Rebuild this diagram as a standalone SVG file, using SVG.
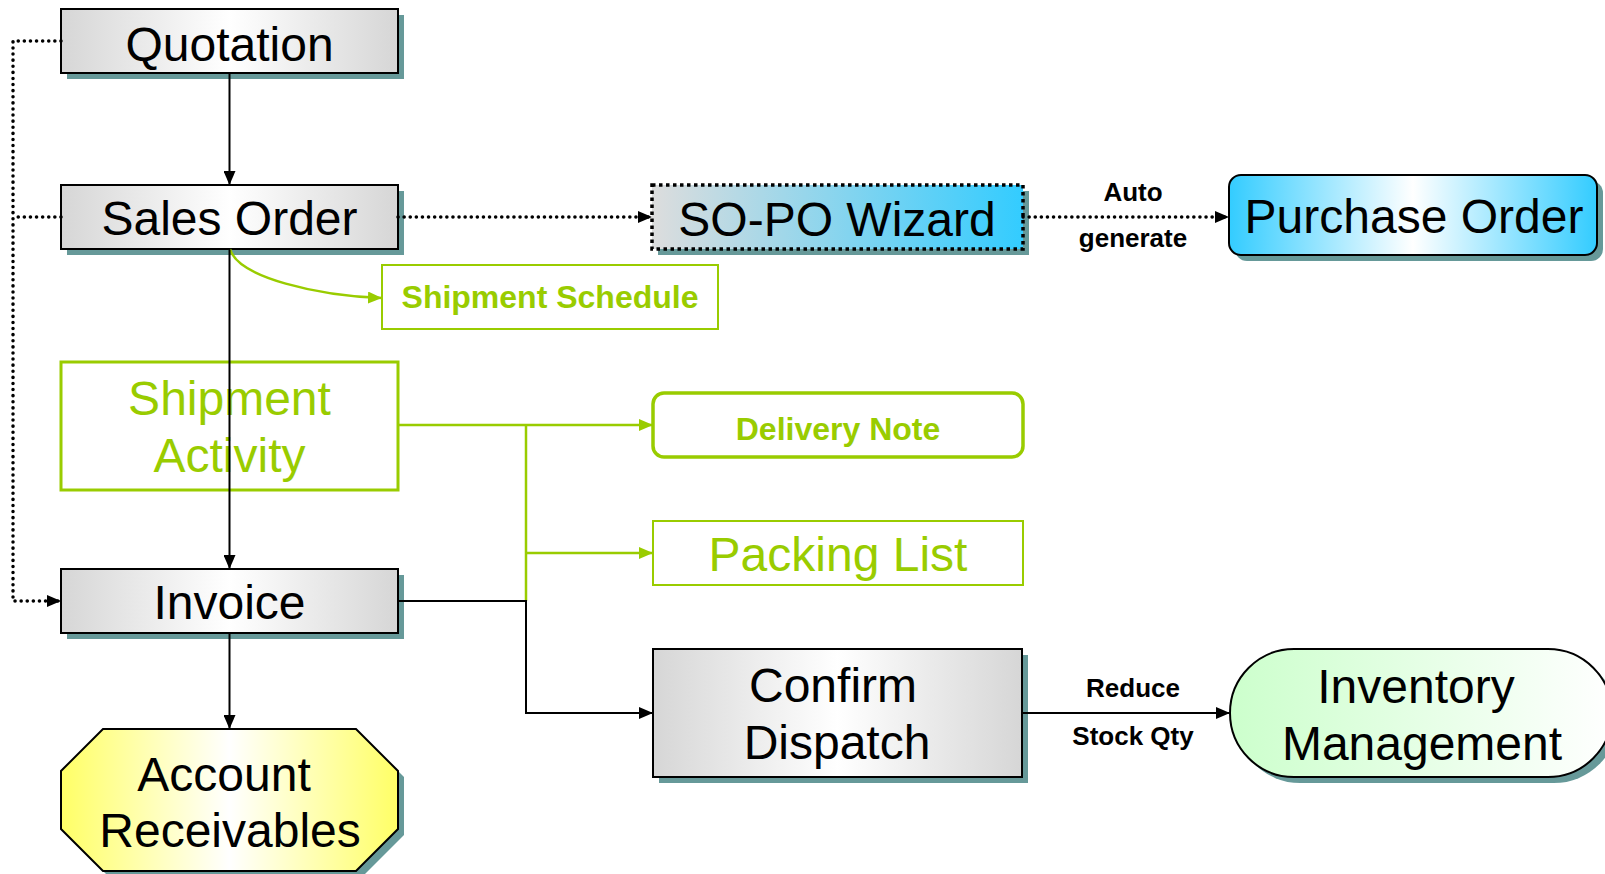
<svg xmlns="http://www.w3.org/2000/svg" width="1605" height="874" viewBox="0 0 1605 874">
<defs>
<linearGradient id="gGray" x1="0" y1="0" x2="1" y2="0"><stop offset="0" stop-color="#d6d6d6"/><stop offset="0.5" stop-color="#ffffff"/><stop offset="1" stop-color="#d6d6d6"/></linearGradient>
<linearGradient id="gBlue" x1="0" y1="0" x2="1" y2="0"><stop offset="0" stop-color="#33ccff"/><stop offset="0.5" stop-color="#ffffff"/><stop offset="1" stop-color="#33ccff"/></linearGradient>
<linearGradient id="gWiz" x1="0" y1="0" x2="1" y2="0"><stop offset="0" stop-color="#dddddd"/><stop offset="1" stop-color="#33ccff"/></linearGradient>
<linearGradient id="gYellow" x1="0" y1="0" x2="1" y2="0"><stop offset="0" stop-color="#ffff66"/><stop offset="0.5" stop-color="#ffffff"/><stop offset="1" stop-color="#ffff66"/></linearGradient>
<linearGradient id="gGreen" x1="0" y1="0" x2="1" y2="0"><stop offset="0" stop-color="#ccffcc"/><stop offset="1" stop-color="#ffffff"/></linearGradient>
<marker id="aBlack" viewBox="0 0 14 12" refX="14" refY="6" markerWidth="14" markerHeight="12" markerUnits="userSpaceOnUse" orient="auto"><path d="M0,0 L14,6 L0,12 Z" fill="#000"/></marker>
<marker id="aGreen" viewBox="0 0 14 12" refX="14" refY="6" markerWidth="14" markerHeight="12" markerUnits="userSpaceOnUse" orient="auto"><path d="M0,0 L14,6 L0,12 Z" fill="#99cc00"/></marker>
</defs>
<style>
.big{font-family:"Liberation Sans",Arial,sans-serif;font-size:48px;text-anchor:middle;fill:#000}
.gbig{font-family:"Liberation Sans",Arial,sans-serif;font-size:48px;text-anchor:middle;fill:#99cc00}
.gbold{font-family:"Liberation Sans",Arial,sans-serif;font-size:32px;font-weight:bold;text-anchor:middle;fill:#99cc00}
.lbl{font-family:"Liberation Sans",Arial,sans-serif;font-size:26px;font-weight:bold;text-anchor:middle;fill:#000}
.shadow{fill:#669999}
.grayBox{fill:url(#gGray);stroke:#000;stroke-width:2}
.cb{fill:none;stroke:#000;stroke-width:2}
.cd{fill:none;stroke:#000;stroke-width:3.5;stroke-dasharray:0.1 6;stroke-linecap:round}
.cg{fill:none;stroke:#99cc00;stroke-width:2.5}
</style>

<g id="node-quotation">
<rect class="shadow" x="67" y="15" width="337" height="64"/>
<rect class="grayBox" x="61" y="9" width="337" height="64"/>
<text class="big" x="229.5" y="61">Quotation</text>
</g>

<g id="node-sales-order">
<rect class="shadow" x="67" y="191" width="337" height="64"/>
<rect class="grayBox" x="61" y="185" width="337" height="64"/>
<text class="big" x="229.5" y="235">Sales Order</text>
</g>

<g id="node-shipment-activity">
<rect x="61" y="362" width="337" height="128" fill="#fff" stroke="#99cc00" stroke-width="3"/>
<text class="gbig" x="229.5" y="415">Shipment</text>
<text class="gbig" x="229.5" y="472">Activity</text>
</g>

<g id="node-invoice">
<rect class="shadow" x="67" y="575" width="337" height="64"/>
<rect class="grayBox" x="61" y="569" width="337" height="64"/>
<text class="big" x="229.5" y="619">Invoice</text>
</g>

<g id="node-account-receivables">
<polygon class="shadow" points="109,735 362,735 404,777 404,835 362,877 109,877 67,835 67,777"/>
<polygon points="103,729 356,729 398,771 398,829 356,871 103,871 61,829 61,771" fill="url(#gYellow)" stroke="#000" stroke-width="2"/>
<text class="big" x="224" y="791">Account</text>
<text class="big" x="230" y="847">Receivables</text>
</g>

<g id="node-shipment-schedule">
<rect x="382" y="265" width="336" height="64" fill="#fff" stroke="#99cc00" stroke-width="2"/>
<text class="gbold" x="550" y="308">Shipment Schedule</text>
</g>

<g id="node-so-po-wizard">
<rect class="shadow" x="658" y="191" width="371" height="64"/>
<rect x="652" y="185" width="371" height="64" fill="url(#gWiz)" stroke="#000" stroke-width="3.5" stroke-dasharray="3.5 3.5"/>
<text class="big" x="837" y="236">SO-PO Wizard</text>
</g>

<g id="node-purchase-order">
<rect class="shadow" x="1235" y="181" width="368" height="80" rx="12"/>
<rect x="1229" y="175" width="368" height="80" rx="12" fill="url(#gBlue)" stroke="#000" stroke-width="2"/>
<text class="big" x="1414" y="233">Purchase Order</text>
</g>

<g id="node-delivery-note">
<rect x="653" y="393" width="370" height="64" rx="11" fill="#fff" stroke="#99cc00" stroke-width="3.5"/>
<text class="gbold" x="838" y="440">Delivery Note</text>
</g>

<g id="node-packing-list">
<rect x="653" y="521" width="370" height="64" fill="#fff" stroke="#99cc00" stroke-width="2"/>
<text class="gbig" x="838" y="571">Packing List</text>
</g>

<g id="node-confirm-dispatch">
<rect class="shadow" x="659" y="655" width="369" height="128"/>
<rect class="grayBox" x="653" y="649" width="369" height="128"/>
<text class="big" x="833" y="702">Confirm</text>
<text class="big" x="837" y="759">Dispatch</text>
</g>

<g id="node-inventory-management">
<rect class="shadow" x="1236" y="655" width="382" height="128" rx="64"/>
<rect x="1230" y="649" width="382" height="128" rx="64" fill="url(#gGreen)" stroke="#000" stroke-width="2"/>
<text class="big" x="1416" y="703">Inventory</text>
<text class="big" x="1422" y="760">Management</text>
</g>

<g id="connectors">
<path class="cb" d="M229.5,73 V185" marker-end="url(#aBlack)"/>
<path class="cd" d="M398,217 H652" marker-end="url(#aBlack)"/>
<path class="cd" d="M1023,217 H1229" marker-end="url(#aBlack)"/>
<text class="lbl" x="1133" y="201">Auto</text>
<text class="lbl" x="1133" y="247">generate</text>
<path class="cd" d="M61,41 H13 V601 H61" marker-end="url(#aBlack)"/>
<path class="cd" d="M61,217 H13"/>
<path class="cg" d="M230,249 C238,278 320,296 382,298" marker-end="url(#aGreen)"/>
<path class="cg" d="M398,425 H653" marker-end="url(#aGreen)"/>
<path class="cg" d="M526,425 V601"/>
<path class="cg" d="M526,553 H653" marker-end="url(#aGreen)"/>
<path class="cb" d="M229.5,249 V569" marker-end="url(#aBlack)"/>
<path class="cb" d="M398,601 H526 V713 H653" marker-end="url(#aBlack)"/>
<path class="cb" d="M229.5,633 V729" marker-end="url(#aBlack)"/>
<path class="cb" d="M1022,713 H1230" marker-end="url(#aBlack)"/>
<text class="lbl" x="1133" y="697">Reduce</text>
<text class="lbl" x="1133" y="745">Stock Qty</text>
</g>
</svg>
